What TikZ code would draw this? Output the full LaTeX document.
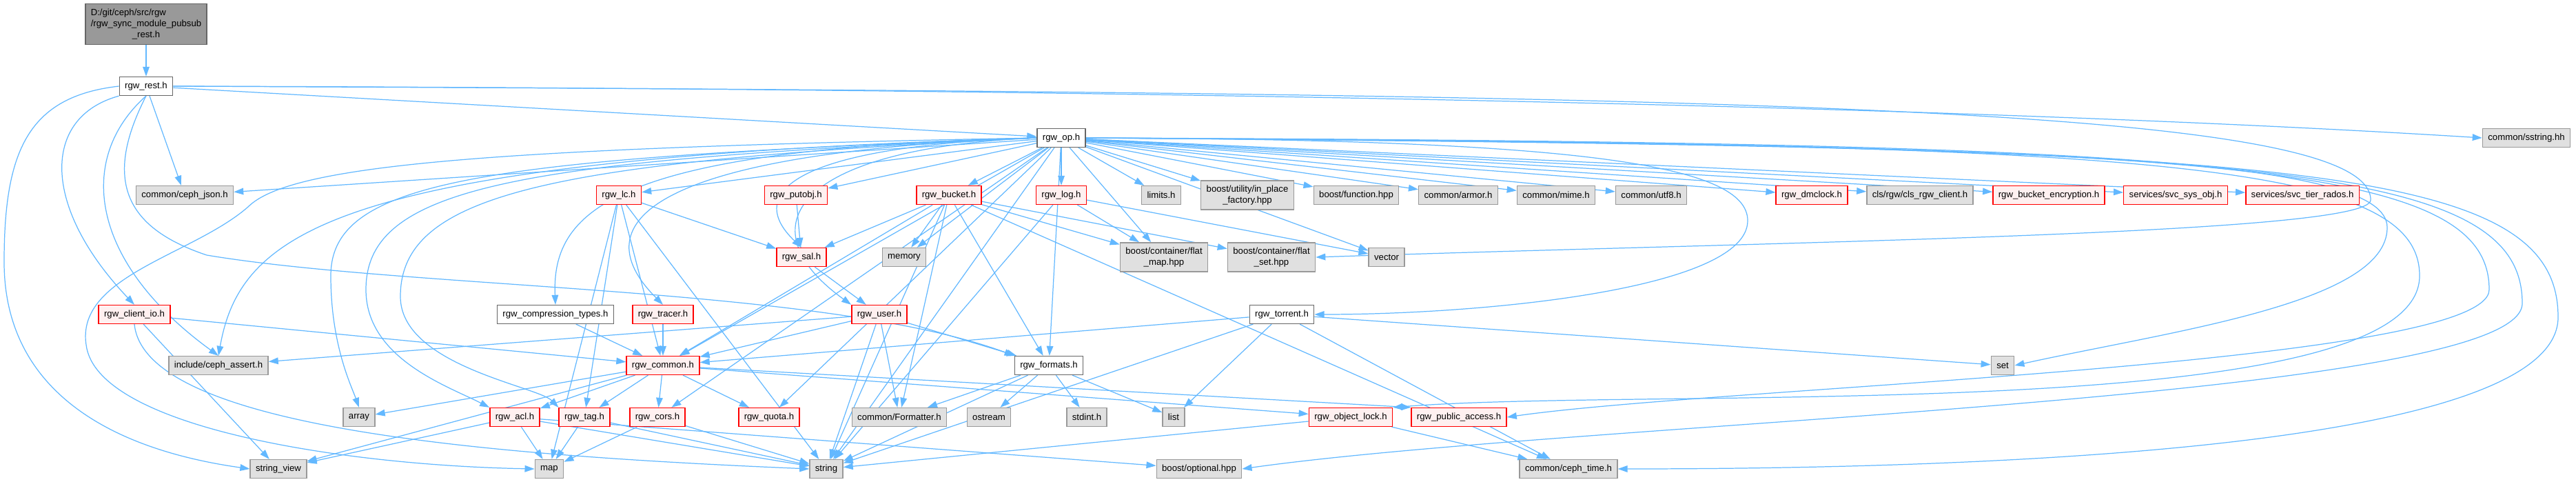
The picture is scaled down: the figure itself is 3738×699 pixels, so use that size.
\documentclass[tikz,border=0pt]{standalone}
\usepackage{fontspec}
\setmainfont{Liberation Sans}
\usepackage{calc}
\usetikzlibrary{arrows.meta,backgrounds}
\definecolor{edgeblue}{RGB}{99,184,255}
\definecolor{sysfill}{HTML}{E0E0E0}
\definecolor{sysline}{HTML}{999999}
\definecolor{redfill}{HTML}{FFF0F0}
\definecolor{fileline}{HTML}{666666}
\definecolor{rootfill}{HTML}{999999}

\begin{document}
\begin{tikzpicture}[x=0.02cm, y=-0.02cm,
	every node/.style={font=\fontsize{7.5}{9}\selectfont, inner xsep=4.5pt, inner ysep=2pt, minimum height=15.3pt},
	sysbox/.style={draw=sysline, fill=sysfill, line width=0.8pt},
	redbox/.style={draw=red, fill=redfill, line width=0.8pt},
	filebox/.style={draw=fileline, fill=white, line width=0.8pt},
	rootbox/.style={draw=fileline, fill=rootfill, line width=0.8pt, align=left, minimum height=33.5pt},
	dep/.style={color=edgeblue, line width=0.7pt, -{Triangle[length=8pt,width=5.5pt]}}]
	\useasboundingbox (0,0) rectangle (3738,699);
	% top
	\node[rootbox] (main) at (212,35) {D:/git/ceph/src/rgw\\/rgw\_sync\_module\_pubsub\\\makebox[\widthof{/rgw\_sync\_module\_pubsub}]{\_rest.h}};
	\node[filebox] (rest) at (212,125) {rgw\_rest.h};
	\node[filebox] (op) at (1540,200) {rgw\_op.h};
	\node[sysbox] (sstring) at (3666,200) {common/sstring.hh};
	% row 283
	\node[sysbox] (json) at (268,283) {common/ceph\_json.h};
	\node[redbox] (lc) at (898,283) {rgw\_lc.h};
	\node[redbox] (putobj) at (1155,283) {rgw\_putobj.h};
	\node[redbox] (bucket) at (1377,283) {rgw\_bucket.h};
	\node[redbox] (log) at (1540,283) {rgw\_log.h};
	\node[sysbox] (limits) at (1685,283) {limits.h};
	\node[sysbox, align=center, minimum height=24pt] (inplace) at (1810,283) {boost/utility/in\_place\\\_factory.hpp};
	\node[sysbox] (function) at (1968,283) {boost/function.hpp};
	\node[sysbox] (armor) at (2116,283) {common/armor.h};
	\node[sysbox] (mime) at (2258,283) {common/mime.h};
	\node[sysbox] (utf) at (2396,283) {common/utf8.h};
	\node[redbox] (dmclock) at (2629,283) {rgw\_dmclock.h};
	\node[sysbox] (clsrgw) at (2786,283) {cls/rgw/cls\_rgw\_client.h};
	\node[redbox] (bucketenc) at (2973,283) {rgw\_bucket\_encryption.h};
	\node[redbox] (svcsys) at (3157,283) {services/svc\_sys\_obj.h};
	\node[redbox] (svctier) at (3341,283) {services/svc\_tier\_rados.h};
	% row 373
	\node[redbox] (sal) at (1163,373) {rgw\_sal.h};
	\node[sysbox] (memory) at (1312,373) {memory};
	\node[sysbox, align=center, minimum height=24pt] (flatmap) at (1689,373) {boost/container/flat\\\_map.hpp};
	\node[sysbox, align=center, minimum height=24pt] (flatset) at (1845,373) {boost/container/flat\\\_set.hpp};
	\node[sysbox] (vector) at (2012,373) {vector};
	% row 456
	\node[redbox] (clientio) at (195,456) {rgw\_client\_io.h};
	\node[filebox] (comptypes) at (806,456) {rgw\_compression\_types.h};
	\node[redbox] (tracer) at (962,456) {rgw\_tracer.h};
	\node[redbox] (user) at (1276,456) {rgw\_user.h};
	\node[filebox] (torrent) at (1860,456) {rgw\_torrent.h};
	% row 530
	\node[sysbox] (assert) at (317,530) {include/ceph\_assert.h};
	\node[redbox] (common) at (962,530) {rgw\_common.h};
	\node[filebox] (formats) at (1522,530) {rgw\_formats.h};
	\node[sysbox] (set) at (2906,530) {set};
	% row 605
	\node[sysbox] (array) at (521,605) {array};
	\node[redbox] (acl) at (747,605) {rgw\_acl.h};
	\node[redbox] (tag) at (848,605) {rgw\_tag.h};
	\node[redbox] (cors) at (954,605) {rgw\_cors.h};
	\node[redbox] (quota) at (1116,605) {rgw\_quota.h};
	\node[sysbox] (formatter) at (1305,605) {common/Formatter.h};
	\node[sysbox] (ostream) at (1435,605) {ostream};
	\node[sysbox] (stdint) at (1577,605) {stdint.h};
	\node[sysbox] (list) at (1703,605) {list};
	\node[redbox] (objlock) at (1960,605) {rgw\_object\_lock.h};
	\node[redbox] (pubaccess) at (2117,605) {rgw\_public\_access.h};
	% row 680
	\node[sysbox] (strview) at (404,680) {string\_view};
	\node[sysbox] (map) at (797,680) {map};
	\node[sysbox] (string) at (1199,680) {string};
	\node[sysbox] (optional) at (1740,680) {boost/optional.hpp};
	\node[sysbox] (cephtime) at (2276,680) {common/ceph\_time.h};

	\begin{pgfonlayer}{background}
	\path[dep] (main) edge (rest);
	\path[dep] (rest) edge (op) edge (json);
	\draw[dep] (rest.east) .. controls (1500,128) and (2800,150) .. (sstring.west);
	\draw[dep] (rest.east) .. controls (2500,135) and (3440,150) .. (3440,290) .. controls (3440,340) and (2600,350) .. (flatset.east);
	\draw[dep] (rest.west) .. controls (40,140) and (6,220) .. (6,380) .. controls (6,560) and (150,650) .. (strview.west);
	\draw[dep] (rest.south west) .. controls (60,170) and (60,300) .. (clientio.north);
	\draw[dep] (rest.south) .. controls (110,230) and (130,380) .. (assert.north);
	\draw[dep] (rest.south) .. controls (150,260) and (180,330) .. (300,370) .. controls (600,420) and (1200,415) .. (formats.north west);
	\path[dep] (op) edge (json) edge (lc) edge (putobj) edge (bucket) edge (log) edge (limits)
		edge (inplace) edge (function) edge (armor) edge (mime) edge (utf) edge (dmclock)
		edge (clsrgw) edge (bucketenc) edge (svcsys) edge (svctier)
		edge (common) edge (cors) edge (quota) edge (string) edge (memory)
		edge (flatmap) edge (vector) edge (formats);
	\draw[dep] (op.west) .. controls (1150,212) and (1080,280) .. (sal.north);
	\draw[dep] (op.west) .. controls (1150,215) and (1080,330) .. (user.north west);
	\draw[dep] (op.west) .. controls (900,215) and (800,300) .. (comptypes.north);
	\draw[dep] (op.west) .. controls (950,220) and (840,320) .. (tracer.north);
	\draw[dep] (op.west) .. controls (500,230) and (350,330) .. (assert.north);
	\draw[dep] (op.west) .. controls (700,230) and (480,260) .. (480,400) .. controls (480,500) and (510,560) .. (array.north);
	\draw[dep] (op.west) .. controls (750,232) and (531,270) .. (531,420) .. controls (531,520) and (650,560) .. (acl.north west);
	\draw[dep] (op.west) .. controls (800,234) and (581,280) .. (581,430) .. controls (581,530) and (780,560) .. (tag.north west);
	\draw[dep] (op.west) .. controls (700,215) and (420,240) .. (360,300) .. controls (280,370) and (110,400) .. (125,500) .. controls (140,620) and (500,675) .. (map.west);
	\draw[dep] (op.east) .. controls (2300,202) and (2536,240) .. (2536,320) .. controls (2536,420) and (2150,456) .. (torrent.east);
	\draw[dep] (op.east) .. controls (3000,205) and (3464,230) .. (3464,330) .. controls (3464,440) and (3150,480) .. (set.east);
	\draw[dep] (op.east) .. controls (3100,208) and (3511,230) .. (3511,400) .. controls (3511,620) and (2400,560) .. (objlock.north east);
	\draw[dep] (op.east) .. controls (3200,210) and (3612,230) .. (3612,420) .. controls (3612,530) and (2500,560) .. (pubaccess.east);
	\draw[dep] (op.east) .. controls (3250,212) and (3660,230) .. (3660,440) .. controls (3660,580) and (2300,610) .. (optional.east);
	\draw[dep] (op.east) .. controls (3300,214) and (3712,230) .. (3712,460) .. controls (3712,660) and (2800,680) .. (cephtime.east);
	\path[dep] (lc) edge (sal) edge (common) edge (tag) edge (map) edge (string);
	\path[dep] (putobj) edge (sal);
	\path[dep] (sal) edge (user);
	\path[dep] (bucket) edge (memory) edge (sal) edge (common) edge (flatmap) edge (flatset)
		edge (formats) edge (formatter) edge (string) edge (cephtime);
	\path[dep] (log) edge (flatmap) edge (vector) edge (string);
	\path[dep] (user) edge (common) edge (assert) edge (formats) edge (formatter) edge (string);
	\path[dep] (clientio) edge (common) edge (strview);
	\draw[dep] (clientio.south) .. controls (210,620) and (700,660) .. (string.west);
	\path[dep] (comptypes) edge (common);
	\path[dep] (tracer) edge (common);
	\path[dep] (common) edge (array) edge (acl) edge (tag) edge (cors) edge (quota) edge (strview)
		edge (objlock) edge (pubaccess.north west);
	\path[dep] (acl) edge (strview) edge (map) edge (string) edge (optional);
	\path[dep] (tag) edge (map) edge (string);
	\path[dep] (cors) edge (map) edge (string);
	\path[dep] (formats) edge (formatter) edge (ostream) edge (stdint) edge (list) edge (string);
	\path[dep] (torrent) edge (common) edge (list) edge (string) edge (cephtime) edge (set);
	\path[dep] (objlock) edge (string) edge (cephtime);
	\end{pgfonlayer}
\end{tikzpicture}
\end{document}
